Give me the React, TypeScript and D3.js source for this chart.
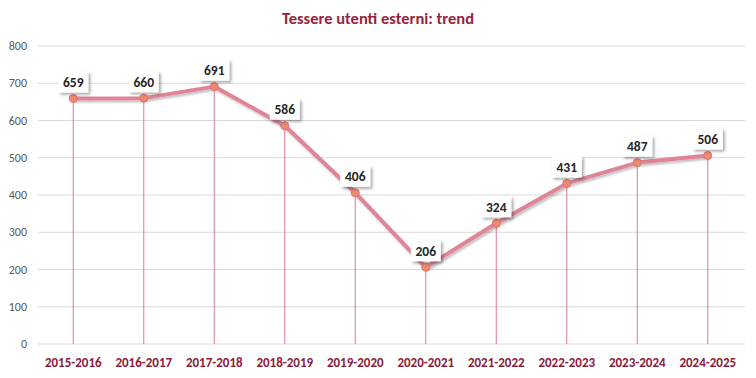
import React from "react";
import * as d3 from "d3";

const categories = ["2015-2016","2016-2017","2017-2018","2018-2019","2019-2020","2020-2021","2021-2022","2022-2023","2023-2024","2024-2025"];
const values = [659, 660, 691, 586, 406, 206, 324, 431, 487, 506];
const yTicks = [0, 100, 200, 300, 400, 500, 600, 700, 800];
const title = "Tessere utenti esterni: trend";

export default function App() {
  const W = 756, H = 378;
  const x = d3.scaleBand<string>().domain(categories).range([38, 743]);
  const y = d3.scaleLinear().domain([0, 800]).range([344, 46]);
  const cx = (c: string) => (x(c) as number) + x.bandwidth() / 2;
  const line = d3.line<number>().x((_, i) => cx(categories[i])).y(d => y(d));
  const font = "Carlito, Calibri, 'Open Sans', sans-serif";
  return (
    <svg width={W} height={H} style={{ position: "absolute", left: 0, top: 0, background: "#fff" }}>
      <defs>
        <filter id="sh" x="-20%" y="-20%" width="150%" height="180%">
          <feDropShadow dx="2" dy="2" stdDeviation="1.5" floodColor="#000" floodOpacity="0.35" />
        </filter>
        <filter id="lsh" x="-5%" y="-5%" width="110%" height="120%">
          <feDropShadow dx="1.5" dy="2" stdDeviation="1.2" floodColor="#000" floodOpacity="0.25" />
        </filter>
      </defs>
      <text x={W / 2} y={24} textAnchor="middle" fontFamily={font} fontWeight="bold" fontSize={16.5} fill="#9a1f40">{title}</text>
      {yTicks.map(t => (
        <g key={t}>
          <line x1={38} x2={745} y1={y(t)} y2={y(t)} stroke="#d9d9d9" strokeWidth={1} />
          <text x={27} y={y(t) + 4} textAnchor="end" fontFamily={font} fontSize={12} fill="#595959">{t}</text>
        </g>
      ))}
      {categories.map((c, i) => (
        <line key={c} x1={cx(c)} x2={cx(c)} y1={y(values[i])} y2={y(0)} stroke="#e07a8e" strokeWidth={1} />
      ))}
      <path d={line(values) as string} fill="none" stroke="#e08598" strokeWidth={4} strokeLinejoin="round" filter="url(#lsh)" />
      {categories.map((c, i) => (
        <circle key={c} cx={cx(c)} cy={y(values[i])} r={4} fill="#ec8a6a" stroke="#e0707e" strokeWidth={1} />
      ))}
      {categories.map((c, i) => {
        const px = cx(c), py = y(values[i]);
        return (
          <g key={c}>
            <rect x={px - 15} y={py - 27} width={30} height={21} fill="#fff" filter="url(#sh)" />
            <text x={px} y={py - 11.5} textAnchor="middle" fontFamily={font} fontWeight="bold" fontSize={13.5} fill="#262626">{values[i]}</text>
          </g>
        );
      })}
      {categories.map(c => (
        <text key={c} x={cx(c)} y={367} textAnchor="middle" fontFamily={font} fontWeight="bold" fontSize={13} fill="#8b1a3a">{c}</text>
      ))}
    </svg>
  );
}
